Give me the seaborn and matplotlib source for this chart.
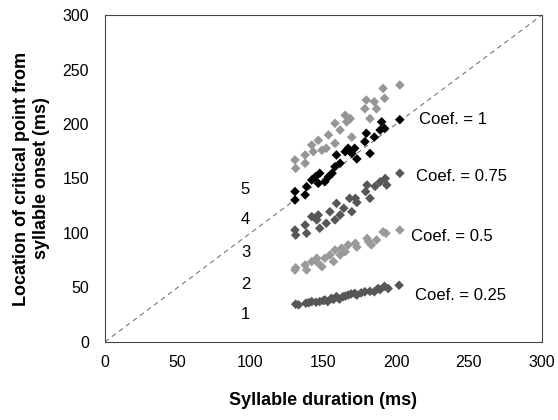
import numpy as np
import pandas as pd
import matplotlib
matplotlib.use("Agg")
import matplotlib.pyplot as plt
import seaborn as sns

# values (ms)
top_x = [130.5, 131, 137.5, 137.5, 142, 143, 146.5, 149, 152, 153.5, 158, 158, 161.5,
         165, 166, 168.5, 169.5, 178.5, 179.5, 182, 185, 186.5, 191, 192, 202.5]
top_y = [167, 159.3, 171.6, 164, 180.7, 174.6, 185, 176, 177.7, 190, 200.6, 182.3, 194.5,
         208, 202, 205, 188, 214, 222, 205, 220.5, 214, 232.7, 223.6, 235.8]

c100_x = [130.5, 130.5, 137.5, 138.5, 142, 144.5, 146.5, 147.5, 151, 153.5, 156, 158, 159,
          161.5, 165, 167, 169.5, 171.5, 173, 178.5, 179.5, 182, 185, 189, 190, 192, 202.5]
c100_y = [130.3, 138, 135, 142.5, 148.6, 151.6, 145.6, 154.8, 147, 151.6, 154.8, 160.8, 171.6,
          164, 174.6, 177.7, 173, 177.7, 168, 183.8, 191.5, 173, 188, 194.5, 202, 196, 204]

c075_x = [130.5, 131, 137.5, 138.5, 142, 145.5, 146.5, 147.5, 152, 154.5, 158, 159, 161.5,
          164, 168, 169.5, 172, 173, 179, 180, 182, 185.5, 189, 192.5, 193.5, 202.5]
c075_y = [102.7, 98, 107.3, 99.7, 115, 112, 116.5, 104.3, 108.9, 119.5, 112, 127.2, 116.5,
          122.7, 131.8, 119.5, 131.8, 128, 138, 144, 131.8, 142.8, 147, 150, 144, 154.8]

c050_x = [130.5, 131, 137.5, 138.5, 142, 145.5, 146.5, 149, 151, 154.5, 157, 158, 161.5,
          162.5, 165, 167, 172, 173, 180, 181, 183, 186.5, 191, 193, 202.5]
c050_y = [66, 68, 70.6, 66, 73.7, 76.8, 72.2, 69, 76.8, 79.8, 73.7, 84.4, 79.8,
          86, 82.8, 89, 90.5, 87, 95, 92, 89, 93.6, 101, 99.7, 102.7]

c025_x = [131, 133, 138, 140, 142, 145, 147.5, 150, 151, 153, 155.5, 157, 159, 161, 163.5,
          165, 167, 169, 171.5, 173, 176, 178.5, 182, 185, 187.5, 189, 192, 194.5, 202]
c025_y = [34.6, 34, 35.5, 36, 37, 36.4, 37, 37.9, 38.5, 37, 40, 39, 41.6, 39.2, 41.6,
          42, 43, 44, 44.6, 43, 45, 46, 46.4, 46, 49, 48, 51, 49, 52]

coef_labels = ["Coef. = 1", "Coef. = 0.75", "Coef. = 0.5", "Coef. = 0.25"]
coef_label_x = [216, 213.5, 210.5, 213]
coef_label_y = [204, 152, 97, 43]

band_labels = ["1", "2", "3", "4", "5"]
band_y = [25, 52.5, 82, 112, 139.5]
band_x = 96.5

groups = {"top": (top_x, top_y), "c100": (c100_x, c100_y), "c075": (c075_x, c075_y),
          "c050": (c050_x, c050_y), "c025": (c025_x, c025_y)}
rows = []
for g, (xs, ys) in groups.items():
    for x, y in zip(xs, ys):
        rows.append({"duration": x, "location": y, "group": g})
df = pd.DataFrame(rows)

palette = {"top": "#969696", "c100": "#000000", "c075": "#575757",
           "c050": "#9a9a9a", "c025": "#575757"}

sns.set_style("white")
plt.rcParams["font.family"] = ["Liberation Sans", "DejaVu Sans"]
plt.rcParams["text.color"] = "black"
plt.rcParams["xtick.color"] = "black"
plt.rcParams["ytick.color"] = "black"
plt.rcParams["axes.labelcolor"] = "black"

fig = plt.figure(figsize=(5.58, 4.2), dpi=100)
ax = fig.add_axes([0.188, 0.186, 0.783, 0.778])

ax.plot([0, 300], [0, 300], color="#666666", lw=0.7, dashes=(5, 4), zorder=1)

sns.scatterplot(data=df, x="duration", y="location", hue="group", palette=palette,
                marker="D", s=24, linewidth=0, legend=False, ax=ax, zorder=3)

for t, x, y in zip(coef_labels, coef_label_x, coef_label_y):
    ax.text(x, y, t, fontsize=12, ha="left", va="center")
for t, y in zip(band_labels, band_y):
    ax.text(band_x, y, t, fontsize=12, ha="center", va="center")

ax.set_xlim(0, 300)
ax.set_ylim(0, 300)
ax.set_xticks(np.arange(0, 301, 50))
ax.set_yticks(np.arange(0, 301, 50))
ax.tick_params(direction="inout", length=7, width=0.7, color="#555555",
               labelsize=11.5, pad=6)
ax.tick_params(axis="y", pad=8)
for s in ax.spines.values():
    s.set_color("#444444")
    s.set_linewidth(0.8)

ax.set_xlabel("Syllable duration (ms)", fontsize=13, fontweight="bold", labelpad=16)
ax.set_ylabel("Location of critical point from\nsyllable onset (ms)", fontsize=13,
              fontweight="bold", labelpad=9)

fig.savefig("out.png", dpi=100)
